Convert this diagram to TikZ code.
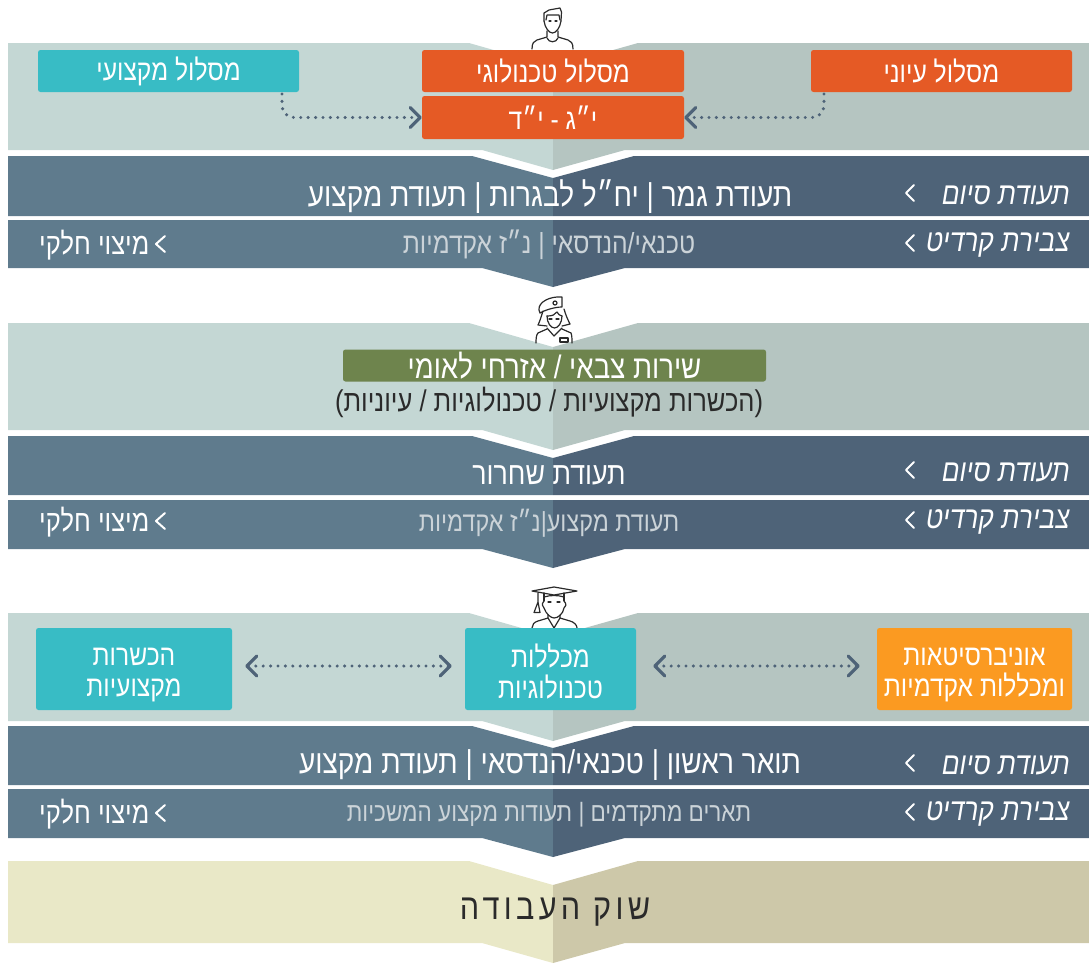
\documentclass[tikz,border=0pt]{standalone}
\usepackage{fontspec}
\usetikzlibrary{arrows.meta}
\usetikzlibrary{calc}
\TeXXeTstate=1
\newfontfamily\hebfont[Script=Hebrew,FakeStretch=0.85]{Liberation Sans}
\newfontfamily\hebwide[Script=Hebrew,FakeStretch=0.85,LetterSpace=12]{Liberation Sans}
\newcommand{\rl}[1]{\beginR #1\endR}
\newcommand{\hebsize}[1]{\hebfont\fontsize{#1}{31}\selectfont}

\definecolor{lightl}{HTML}{C4D7D4}
\definecolor{lightr}{HTML}{B5C5C1}
\definecolor{darkl}{HTML}{5F7B8D}
\definecolor{darkr}{HTML}{4E6378}
\definecolor{sandl}{HTML}{E9E8C7}
\definecolor{sandr}{HTML}{CDC8A9}
\definecolor{orangebox}{HTML}{E55A25}
\definecolor{tealbox}{HTML}{38BCC5}
\definecolor{amberbox}{HTML}{FB9A21}
\definecolor{greenbox}{HTML}{6E844D}
\definecolor{softtext}{HTML}{CBD3D8}
\definecolor{iconink}{HTML}{2A2A2A}

\tikzset{
    box/.style={rounded corners=2.5pt, inner sep=0pt, text=white, align=center, font=\hebsize{29}},
    rowtext/.style={text=white, inner sep=0pt, font=\hebsize{33}},
    softrow/.style={text=softtext, inner sep=0pt},
    rowhead/.style={text=white, inner sep=0pt, anchor=east, font=\hebfont\itshape\fontsize{31}{31}\selectfont},
    rowend/.style={text=white, inner sep=0pt, anchor=west, font=\hebsize{30}},
    markline/.style={white, line width=2pt, line cap=round, line join=round},
    dotline/.style={darkr, line width=3.4pt, line cap=round, dash pattern=on 0pt off 7.4pt, rounded corners=12pt},
    dottip/.tip={Straight Barb[length=10pt, width=20pt, line width=3.2pt, round]},
    iconline/.style={iconink, line width=1.2pt, line cap=round, line join=round},
}

\begin{document}
\begin{tikzpicture}[x=1pt, y=-1pt]

    \useasboundingbox (0, 0) rectangle (1089, 964);

    % Light bands
    \foreach \ytop/\ybot in {43/150, 323/430, 613/721} {
        \fill[lightl] (8, \ytop) -- (469, \ytop) -- (553, \ytop+24) -- (553, \ybot+20) -- (482, \ybot) -- (8, \ybot) -- cycle;
        \fill[lightr] (1089, \ytop) -- (638, \ytop) -- (553, \ytop+24) -- (553, \ybot+20) -- (625, \ybot) -- (1089, \ybot) -- cycle;
    }

    % Upper dark bands
    \foreach \ytop/\ybot in {156/216, 436/495, 726/785} {
        \fill[darkl] (8, \ytop) -- (472, \ytop) -- (553, \ytop+22) -- (553, \ybot) -- (8, \ybot) -- cycle;
        \fill[darkr] (1089, \ytop) -- (634, \ytop) -- (553, \ytop+22) -- (553, \ybot) -- (1089, \ybot) -- cycle;
    }

    % Lower dark bands
    \foreach \ytop/\ybot in {220/268, 500/549, 789/838} {
        \fill[darkl] (8, \ytop) -- (553, \ytop) -- (553, \ybot+19) -- (482, \ybot) -- (8, \ybot) -- cycle;
        \fill[darkr] (1089, \ytop) -- (553, \ytop) -- (553, \ybot+19) -- (625, \ybot) -- (1089, \ybot) -- cycle;
    }

    % Last band
    \fill[sandl] (8, 861) -- (469, 861) -- (553, 885) -- (553, 963) -- (482, 943) -- (8, 943) -- cycle;
    \fill[sandr] (1089, 861) -- (638, 861) -- (553, 885) -- (553, 963) -- (625, 943) -- (1089, 943) -- cycle;

    % Man
    \draw[iconline] (544, 21) .. controls (545, 28) and (549, 33) .. (552.5, 33) .. controls (556, 33) and (560, 28) .. (561, 21);
    \draw[iconline] (544, 21) -- (544, 13) -- (549, 10) -- (560, 8) -- (561.5, 12) -- (561, 21);
    \draw[iconline] (546, 20) -- (547, 15) -- (559, 15) -- (560, 20);
    \draw[iconline] (549, 21) -- (551, 21) (555, 21) -- (557, 21);
    \draw[iconline] (547, 31) -- (547, 37) -- (537, 40) .. controls (534, 41) and (532, 43) .. (532, 49);
    \draw[iconline] (558, 31) -- (558, 37) -- (568, 40) .. controls (571, 41) and (573, 43) .. (573, 49);
    \draw[iconline] (547, 38) .. controls (549, 43) and (556, 43) .. (558, 38);

    % Woman in uniform
    \draw[iconline] (539, 310) .. controls (538, 302) and (550, 296) .. (562, 297) -- (562, 307) .. controls (555, 307) and (545, 310) .. (540, 313) -- cycle;
    \draw[iconline] (555, 303) circle [radius=2];
    \draw[iconline] (543, 311) .. controls (541, 317) and (540, 321) .. (538, 325) -- (547, 326);
    \draw[iconline] (564, 309) .. controls (566, 316) and (568, 320) .. (570, 324) -- (562, 326);
    \draw[iconline] (547, 316) .. controls (547, 323) and (551, 328) .. (554.5, 328) .. controls (558, 328) and (562, 323) .. (562, 316);
    \draw[iconline] (547, 316) .. controls (552, 316) and (555, 315) .. (557, 312) .. controls (558, 314) and (560, 316) .. (562, 316);
    \draw[iconline] (549, 319) -- (552, 319) (556, 319) -- (559, 319);
    \draw[iconline] (547, 329) -- (538, 333) .. controls (536, 335) and (536, 340) .. (536, 343);
    \draw[iconline] (562, 329) -- (571, 333) .. controls (572, 335) and (572, 340) .. (572, 343);
    \draw[iconline] (547, 328) -- (554, 336) -- (562, 328);
    \draw[iconline] (560, 338) -- (568, 338) -- (568, 342) -- (560, 342) -- cycle;

    % Graduate
    \draw[iconline] (532, 591) -- (554, 587) -- (577, 591) -- (554, 595) -- cycle;
    \draw[iconline] (544, 593) -- (544, 601) (564, 593) -- (564, 601);
    \draw[iconline] (544, 597) .. controls (550, 595) and (558, 595) .. (564, 597);
    \draw[iconline] (538, 593) -- (538, 602) -- (534, 612.5) -- (540, 612.5) -- (538, 602);
    \draw[iconline] (544, 601) .. controls (541, 604) and (543, 607) .. (544, 608) .. controls (546, 614) and (551, 618) .. (554, 618) .. controls (558, 618) and (563, 614) .. (564, 608) .. controls (566, 607) and (567, 604) .. (564, 601);
    \draw[iconline] (548, 602) -- (551, 602) (557, 602) -- (560, 602);
    \draw[iconline] (548, 615) -- (548, 618) -- (538, 621) .. controls (534, 622) and (532, 625) .. (532, 628);
    \draw[iconline] (560, 615) -- (560, 618) -- (570, 621) .. controls (574, 622) and (577, 625) .. (577, 628);
    \draw[iconline] (548, 618) -- (554, 628) -- (560, 618);

    % First stage
    \node[box, fill=tealbox, minimum width=261pt, minimum height=42pt] (prof) at (168.5, 71) {\rl{מסלול מקצועי}};
    \node[box, fill=orangebox, minimum width=262pt, minimum height=42pt] (tech) at (553, 71) {\rl{מסלול טכנולוגי}};
    \node[box, fill=orangebox, minimum width=262pt, minimum height=43pt] (grade) at (553, 117.5) {\rl{י״ג - י״ד}};
    \node[box, fill=orangebox, minimum width=261pt, minimum height=42pt] (acad) at (941.5, 71) {\rl{מסלול עיוני}};

    \coordinate (profout) at (282, 94);
    \coordinate (acadout) at (824, 94);
    \draw[dotline, -dottip] (profout) -- (profout |- grade.west) -- (grade.west);
    \draw[dotline, -dottip] (acadout) -- (acadout |- grade.east) -- (grade.east);

    \node[rowtext] (exit1) at (550, 197) {\rl{תעודת גמר | יח״ל לבגרות | תעודת מקצוע}};
    \node[softrow, font=\hebsize{29}] (credit1) at (549, 245) {\rl{טכנאי/הנדסאי | נ״ז אקדמיות}};

    % Second stage
    \node[box, fill=greenbox, minimum width=423pt, minimum height=32pt, font=\hebsize{32.5}] (service) at (554.5, 365.5) {\rl{שירות צבאי / אזרחי לאומי}};
    \node[text=iconink, inner sep=0pt, font=\hebsize{30}] (courses) at (549, 402) {\rl{(הכשרות מקצועיות / טכנולוגיות / עיוניות)}};

    \node[rowtext, font=\hebsize{31.5}] (exit2) at (549, 475) {\rl{תעודת שחרור}};
    \node[softrow, font=\hebsize{27.5}] (credit2) at (549, 523) {\rl{תעודת מקצוע|נ״ז אקדמיות}};

    % Third stage
    \node[box, fill=tealbox, minimum width=196pt, minimum height=82pt] (train) at (134, 669) {\rule{0pt}{29pt}\rl{הכשרות}\\\rl{מקצועיות}};
    \node[box, fill=tealbox, minimum width=171pt, minimum height=82pt] (college) at (550.5, 669) {\rule{0pt}{29pt}\rl{מכללות}\\\rl{טכנולוגיות}};
    \node[box, fill=amberbox, minimum width=195pt, minimum height=82pt] (univ) at (974.5, 669) {\rule{0pt}{29pt}\rl{אוניברסיטאות}\\\rl{ומכללות אקדמיות}};

    \draw[dotline, dottip-dottip, shorten <=13pt, shorten >=13pt] ([yshift=3pt]train.east) -- ([yshift=3pt]college.west);
    \draw[dotline, dottip-dottip, shorten <=17pt, shorten >=17pt] ([yshift=3pt]college.east) -- ([yshift=3pt]univ.west);

    \node[rowtext] (exit3) at (550, 765) {\rl{תואר ראשון | טכנאי/הנדסאי | תעודת מקצוע}};
    \node[softrow, font=\hebsize{26.5}] (credit3) at (549, 815) {\rl{תארים מתקדמים | תעודות מקצוע המשכיות}};

    % Row heads and ends
    \foreach \yend/\ycredit/\tag in {193/243/a, 470/520/b, 763/812/c} {
        \node[rowhead] (exit\tag) at (1070, \yend+2) {\rl{תעודת סיום}};
        \node[rowhead] (credit\tag) at (1070, \ycredit+2) {\rl{צבירת קרדיט}};
        \node[rowend] (partial\tag) at (39, \ycredit+2) {\rl{מיצוי חלקי}};
        \draw[markline] (914, \yend-8) -- (906, \yend) -- (914, \yend+8);
        \draw[markline] (914, \ycredit-8) -- (906, \ycredit) -- (914, \ycredit+8);
        \draw[markline] (165, \ycredit-7) -- (156, \ycredit+1) -- (165, \ycredit+9);
    }

    % Labour market
    \node[text=iconink, inner sep=0pt, font=\hebwide\fontsize{36}{38}\selectfont] (market) at (555, 912) {\rl{שוק העבודה}};

\end{tikzpicture}
\end{document}
